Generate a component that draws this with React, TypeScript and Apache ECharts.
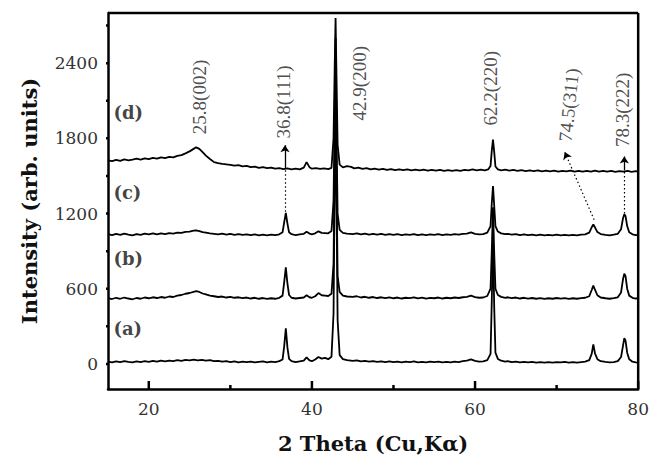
import React, { useEffect, useRef } from "react";
import * as echarts from "echarts";

const traceA = [[15,18],[15.5,12],[16,20],[16.5,14],[17,22],[17.5,16],[18,12],[18.5,20],[19,15],[19.5,22],[20,17],[20.5,24],[21,18],[21.5,26],[22,20],[22.5,27],[23,22],[23.5,30],[24,25],[24.5,32],[25,28],[25.5,34],[26,29],[26.5,33],[27,26],[27.5,30],[28,22],[28.5,25],[29,18],[29.5,22],[30,15],[30.5,20],[31,13],[31.5,18],[32,14],[32.5,19],[33,12],[33.5,17],[34,20],[34.5,13],[35,18],[35.5,14],[36,22],[36.4,35],[36.6,140],[36.8,285],[37,130],[37.2,40],[37.5,22],[38,14],[38.5,20],[39,26],[39.35,52],[39.7,28],[40,22],[40.4,36],[40.8,55],[41.2,42],[41.6,48],[42,38],[42.4,58],[42.65,400],[42.8,1500],[42.9,2100],[43.0,1400],[43.15,350],[43.4,70],[43.8,38],[44.3,30],[45,24],[45.5,28],[46,20],[46.5,25],[47,18],[47.5,23],[48,16],[48.5,21],[49,15],[49.5,20],[50,14],[50.5,19],[51,13],[51.5,18],[52,15],[52.5,20],[53,13],[53.5,17],[54,12],[54.5,18],[55,14],[55.5,19],[56,13],[56.5,17],[57,12],[57.5,18],[58,15],[58.5,22],[59,26],[59.5,36],[60,24],[60.5,18],[61,20],[61.5,30],[61.9,80],[62.05,500],[62.2,1000],[62.35,450],[62.5,90],[62.8,40],[63.2,26],[63.7,18],[64,22],[64.5,15],[65,19],[65.5,13],[66,17],[66.5,12],[67,16],[67.5,11],[68,15],[68.5,10],[69,14],[69.5,11],[70,15],[70.5,12],[71,16],[71.5,10],[72,14],[72.5,11],[73,15],[73.5,18],[74,30],[74.3,80],[74.5,155],[74.7,85],[75,38],[75.4,22],[76,16],[76.5,12],[77,15],[77.5,22],[77.9,55],[78.15,150],[78.3,205],[78.45,185],[78.65,90],[78.9,38],[79.3,18],[79.7,12],[80,10]];

const traceB = [[15,525],[15.5,518],[16,528],[16.5,520],[17,530],[17.5,522],[18,516],[18.5,526],[19,520],[19.5,530],[20,524],[20.5,532],[21,526],[21.5,534],[22,528],[22.5,538],[23,534],[23.5,545],[24,550],[24.5,560],[25,566],[25.5,575],[25.8,580],[26.2,574],[26.6,562],[27,555],[27.5,545],[28,540],[28.5,534],[29,538],[29.5,530],[30,535],[30.5,528],[31,532],[31.5,525],[32,530],[32.5,522],[33,528],[33.5,520],[34,526],[34.5,519],[35,524],[35.5,520],[36,528],[36.4,545],[36.6,650],[36.8,770],[37,640],[37.2,550],[37.5,528],[38,522],[38.5,526],[39,530],[39.35,548],[39.7,532],[40,528],[40.4,540],[40.8,565],[41.2,548],[41.6,545],[42,542],[42.4,560],[42.65,800],[42.8,1700],[42.9,2400],[43.0,1600],[43.15,700],[43.4,575],[43.8,545],[44.3,538],[45,535],[45.5,540],[46,530],[46.5,536],[47,528],[47.5,534],[48,526],[48.5,532],[49,525],[49.5,531],[50,524],[50.5,530],[51,522],[51.5,528],[52,525],[52.5,531],[53,523],[53.5,529],[54,521],[54.5,527],[55,524],[55.5,530],[56,522],[56.5,528],[57,524],[57.5,530],[58,526],[58.5,532],[59,535],[59.5,545],[60,533],[60.5,528],[61,530],[61.5,542],[61.9,600],[62.05,900],[62.2,1250],[62.35,880],[62.5,600],[62.8,550],[63.2,535],[63.7,528],[64,532],[64.5,525],[65,530],[65.5,522],[66,528],[66.5,521],[67,526],[67.5,520],[68,525],[68.5,519],[69,524],[69.5,520],[70,526],[70.5,521],[71,525],[71.5,519],[72,524],[72.5,520],[73,525],[73.5,528],[74,540],[74.3,590],[74.5,625],[74.7,592],[75,548],[75.4,530],[76,524],[76.5,520],[77,525],[77.5,532],[77.9,570],[78.15,680],[78.3,720],[78.45,700],[78.65,600],[78.9,545],[79.3,528],[79.7,522],[80,525]];

const traceC = [[15,1035],[15.5,1028],[16,1038],[16.5,1030],[17,1040],[17.5,1032],[18,1026],[18.5,1036],[19,1030],[19.5,1040],[20,1033],[20.5,1041],[21,1034],[21.5,1042],[22,1036],[22.5,1044],[23,1040],[23.5,1048],[24,1046],[24.5,1054],[25,1056],[25.5,1064],[25.8,1066],[26.2,1060],[26.6,1052],[27,1048],[27.5,1042],[28,1038],[28.5,1034],[29,1040],[29.5,1032],[30,1038],[30.5,1030],[31,1036],[31.5,1029],[32,1034],[32.5,1027],[33,1033],[33.5,1026],[34,1032],[34.5,1025],[35,1031],[35.5,1027],[36,1034],[36.4,1050],[36.6,1130],[36.8,1205],[37,1120],[37.2,1050],[37.5,1035],[38,1028],[38.5,1034],[39,1038],[39.35,1055],[39.7,1040],[40,1034],[40.4,1042],[40.8,1058],[41.2,1046],[41.6,1044],[42,1042],[42.4,1060],[42.65,1300],[42.8,2000],[42.9,2600],[43.0,1900],[43.15,1200],[43.4,1070],[43.8,1045],[44.3,1040],[45,1036],[45.5,1042],[46,1034],[46.5,1040],[47,1032],[47.5,1038],[48,1031],[48.5,1037],[49,1030],[49.5,1036],[50,1029],[50.5,1035],[51,1028],[51.5,1034],[52,1030],[52.5,1036],[53,1028],[53.5,1034],[54,1027],[54.5,1033],[55,1029],[55.5,1035],[56,1028],[56.5,1034],[57,1030],[57.5,1036],[58,1032],[58.5,1038],[59,1040],[59.5,1050],[60,1038],[60.5,1034],[61,1036],[61.5,1048],[61.9,1100],[62.05,1280],[62.2,1420],[62.35,1260],[62.5,1100],[62.8,1056],[63.2,1042],[63.7,1035],[64,1038],[64.5,1031],[65,1036],[65.5,1028],[66,1034],[66.5,1027],[67,1032],[67.5,1026],[68,1031],[68.5,1025],[69,1030],[69.5,1026],[70,1031],[70.5,1026],[71,1030],[71.5,1025],[72,1030],[72.5,1026],[73,1031],[73.5,1034],[74,1048],[74.3,1090],[74.5,1112],[74.7,1090],[75,1052],[75.4,1036],[76,1030],[76.5,1026],[77,1031],[77.5,1038],[77.9,1075],[78.15,1165],[78.3,1195],[78.45,1180],[78.65,1100],[78.9,1050],[79.3,1034],[79.7,1028],[80,1030]];

const traceD = [[15,1625],[15.5,1618],[16,1628],[16.5,1620],[17,1632],[17.5,1624],[18,1630],[18.5,1638],[19,1630],[19.5,1640],[20,1634],[20.5,1644],[21,1638],[21.5,1648],[22,1642],[22.5,1652],[23,1648],[23.5,1660],[24,1666],[24.5,1680],[25,1696],[25.4,1712],[25.8,1728],[26.2,1716],[26.6,1690],[27,1662],[27.5,1635],[28,1610],[28.5,1602],[29,1596],[29.5,1592],[30,1588],[30.5,1582],[31,1586],[31.5,1576],[32,1580],[32.5,1570],[33,1574],[33.5,1565],[34,1570],[34.5,1562],[35,1566],[35.5,1558],[36,1562],[36.5,1555],[37,1560],[37.5,1553],[38,1558],[38.5,1552],[39,1566],[39.35,1610],[39.7,1570],[40,1558],[40.5,1562],[41,1556],[41.5,1560],[42,1555],[42.4,1565],[42.65,1800],[42.8,2400],[42.9,2760],[43.0,2350],[43.15,1750],[43.4,1590],[43.8,1568],[44.3,1578],[44.8,1572],[45.2,1560],[45.7,1566],[46.2,1556],[46.7,1562],[47.2,1552],[47.7,1558],[48.2,1550],[48.7,1556],[49.2,1548],[49.7,1554],[50.2,1547],[50.7,1553],[51.2,1546],[51.7,1552],[52.2,1545],[52.7,1551],[53.2,1544],[53.7,1550],[54.2,1543],[54.7,1549],[55.2,1542],[55.7,1548],[56.2,1541],[56.7,1547],[57.2,1540],[57.7,1546],[58.2,1541],[58.7,1548],[59.2,1544],[59.7,1552],[60.2,1545],[60.7,1550],[61.2,1544],[61.6,1552],[61.9,1580],[62.05,1700],[62.2,1790],[62.35,1690],[62.5,1575],[62.8,1552],[63.2,1545],[63.7,1550],[64.2,1542],[64.7,1548],[65.2,1540],[65.7,1546],[66.2,1539],[66.7,1545],[67.2,1538],[67.7,1544],[68.2,1537],[68.7,1543],[69.2,1536],[69.7,1542],[70.2,1535],[70.7,1541],[71.2,1536],[71.7,1542],[72.2,1535],[72.7,1541],[73.2,1534],[73.7,1540],[74.2,1534],[74.7,1542],[75.2,1535],[75.7,1541],[76.2,1534],[76.7,1540],[77.2,1533],[77.7,1539],[78.2,1534],[78.7,1540],[79.2,1533],[79.7,1539],[80,1535]];

const xRange = [15, 80];
const yRange = [-200, 2800];
const xMajorTicks = [20, 40, 60, 80];
const xMinorTicks = [30, 50, 70];
const yMajorTicks = [0, 600, 1200, 1800, 2400];
const yMinorTicks = [300, 900, 1500, 2100, 2700];

const sampleNames = ["(a)", "(b)", "(c)", "(d)"];
const sampleLabelAt = [[15.6, 285], [15.6, 839], [15.6, 1370], [15.6, 2003]];

const peakNames = ["25.8(002)", "36.8(111)", "42.9(200)", "62.2(220)", "74.5(311)", "78.3(222)"];
const peakLabelAt = [[26.2, 2130], [36.5, 2090], [45.85, 2240], [61.95, 2200], [71.5, 2067], [78.05, 2027]];
const peakLabelRotate = [90, 90, 90, 90, 84, 90];

const solidArrows = [[[36.7, 1560], [36.7, 1745]], [[78.3, 1545], [78.3, 1655]]];
const dottedArrows = [[[74.6, 1150], [71.0, 1690]]];
const dottedGuides = [[[36.7, 1215], [36.7, 1560]], [[78.3, 1200], [78.3, 1545]]];

const serif = "DejaVu Serif";

export default function App() {
  const ref = useRef<HTMLDivElement>(null);
  useEffect(() => {
    if (!ref.current) return;
    const chart = echarts.init(ref.current, null, { renderer: "svg" });
    const lineSeries = (data: number[][]) => ({
      type: "line",
      data,
      showSymbol: false,
      symbol: "none",
      lineStyle: { color: "#000", width: 1.8 },
    });
    const arrowData: any[] = [];
    solidArrows.forEach((a) =>
      arrowData.push([
        { coord: a[0], symbol: "none", lineStyle: { type: "solid", width: 1.3, color: "#000" } },
        { coord: a[1], symbol: "arrow" },
      ])
    );
    dottedArrows.forEach((a) =>
      arrowData.push([
        { coord: a[0], symbol: "none", lineStyle: { type: [1.5, 2.5], width: 1.2, color: "#000" } },
        { coord: a[1], symbol: "arrow" },
      ])
    );
    dottedGuides.forEach((a) =>
      arrowData.push([
        { coord: a[0], symbol: "none", lineStyle: { type: [1.5, 2.5], width: 1.2, color: "#000" } },
        { coord: a[1], symbol: "none" },
      ])
    );
    const baseSeries: any[] = [
      lineSeries(traceA),
      lineSeries(traceB),
      lineSeries(traceC),
      lineSeries(traceD),
      {
        type: "scatter",
        symbolSize: 1,
        itemStyle: { color: "rgba(0,0,0,0)" },
        data: peakNames.map((n, i) => ({
          name: n,
          value: peakLabelAt[i],
          label: { rotate: peakLabelRotate[i] },
        })),
        label: {
          show: true,
          position: "inside",
          formatter: "{b}",
          fontFamily: "Liberation Serif",
          fontSize: 19,
          color: "#222",
        },
        markLine: {
          silent: true,
          symbolSize: 7,
          label: { show: false },
          data: arrowData,
        },
      },
      {
        type: "scatter",
        symbolSize: 1,
        itemStyle: { color: "rgba(0,0,0,0)" },
        data: sampleNames.map((n, i) => ({ name: n, value: sampleLabelAt[i] })),
        label: {
          show: true,
          position: "right",
          distance: 0,
          formatter: "{b}",
          fontFamily: serif,
          fontWeight: "bold",
          fontSize: 18,
          color: "#111",
        },
      },
    ];
    const option: any = {
      animation: false,
      backgroundColor: "#fff",
      grid: { left: 108, right: 10, top: 13, bottom: 67 },
      xAxis: {
        type: "value",
        min: xRange[0],
        max: xRange[1],
        interval: 5,
        position: "bottom",
        name: "2 Theta (Cu,Kα)",
        nameLocation: "middle",
        nameGap: 44,
        nameTextStyle: { fontFamily: serif, fontWeight: "bold", fontSize: 21, color: "#111" },
        axisLine: { onZero: false, lineStyle: { color: "#000", width: 2.5 } },
        axisTick: { show: false },
        axisLabel: {
          formatter: (v: number) => (xMajorTicks.indexOf(v) >= 0 ? String(v) : ""),
          fontFamily: serif,
          fontSize: 17,
          color: "#333",
          margin: 11,
        },
        splitLine: { show: false },
      },
      yAxis: {
        type: "value",
        min: yRange[0],
        max: yRange[1],
        interval: 100,
        position: "left",
        name: "Intensity (arb. units)",
        nameLocation: "middle",
        nameGap: 68,
        nameTextStyle: { fontFamily: serif, fontWeight: "bold", fontSize: 21, color: "#111" },
        axisLine: { show: true, onZero: false, lineStyle: { color: "#000", width: 2.5 } },
        axisTick: { show: false },
        axisLabel: {
          formatter: (v: number) => (yMajorTicks.indexOf(v) >= 0 ? String(v) : ""),
          fontFamily: serif,
          fontSize: 17,
          color: "#333",
          margin: 10,
        },
        splitLine: { show: false },
      },
      series: baseSeries,
    };
    chart.setOption(option);

    // Frame and ticks drawn as plain line series (the mark type that renders reliably).
    const px = (x: number, y: number) =>
      chart.convertToPixel({ seriesIndex: 0 }, [x, y]) as number[];
    const [l, t] = px(xRange[0], yRange[1]);
    const [r, b] = px(xRange[1], yRange[0]);
    const yPerPx = (yRange[1] - yRange[0]) / (b - t);
    const xPerPx = (xRange[1] - xRange[0]) / (r - l);
    const segments: number[][][] = [
      [[xRange[0], yRange[1]], [xRange[1], yRange[1]]],
      [[xRange[1], yRange[0]], [xRange[1], yRange[1]]],
    ];
    xMajorTicks.forEach((v) => segments.push([[v, yRange[0]], [v, yRange[0] + 8 * yPerPx]]));
    xMinorTicks.forEach((v) => segments.push([[v, yRange[0]], [v, yRange[0] + 4 * yPerPx]]));
    yMajorTicks.forEach((v) => segments.push([[xRange[0] - 6 * xPerPx, v], [xRange[0], v]]));
    yMinorTicks.forEach((v) => segments.push([[xRange[0] - 4 * xPerPx, v], [xRange[0], v]]));
    const frameSeries = segments.map((seg) => ({
      type: "line",
      data: seg,
      clip: false,
      showSymbol: false,
      symbol: "none",
      silent: true,
      lineStyle: { color: "#000", width: 2.5, cap: "butt" },
      z: 4,
    }));
    chart.setOption({ ...option, series: baseSeries.concat(frameSeries) }, true);

    return () => chart.dispose();
  }, []);
  return (
    <div ref={ref} style={{ position: "fixed", left: 0, top: 0, width: 652, height: 459 }} />
  );
}
